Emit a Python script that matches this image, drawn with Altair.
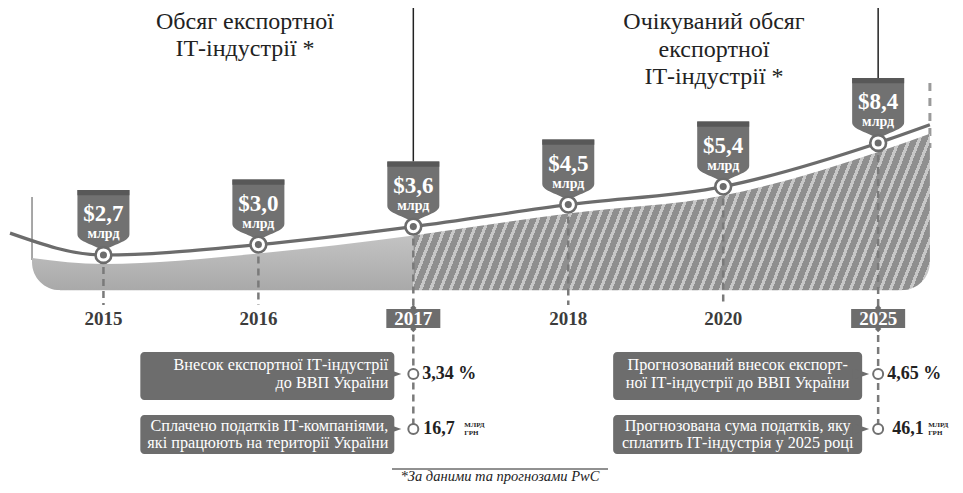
import altair as alt
import pandas as pd

# ---------------- data ----------------
years = ["2015", "2016", "2017", "2018", "2020", "2025"]
export_bn = [2.7, 3.0, 3.6, 4.5, 5.4, 8.4]
unit = "млрд"
curve_start_value = 3.37   # decorative lead-in of the curve (left of 2015)
curve_end_value = 10.1     # decorative lead-out of the curve (right of 2025)
area_start_value = 2.62    # top of the grey band at its left edge
actual_years = ["2015", "2016", "2017"]
forecast_years = ["2017", "2018", "2020", "2025"]
marked_years = ["2017", "2025"]

title_actual = ["Обсяг експортної", "ІТ-індустрії *"]
title_forecast = ["Очікуваний обсяг", "експортної", "ІТ-індустрії *"]
share_text_2017 = ["Внесок експортної  ІТ-індустрії", "до ВВП України"]
tax_text_2017 = ["Сплачено податків ІТ-компаніями,", "які працюють на території України"]
share_text_2025 = ["Прогнозований внесок експорт-", "ної  ІТ-індустрії до ВВП України"]
tax_text_2025 = ["Прогнозована сума податків, яку", "сплатить ІТ-індустрія у 2025 році"]
gdp_share = ["3,34 %", "4,65 %"]
taxes_uah_bn = ["16,7", "46,1"]
tax_unit = ["МЛРД", "ГРН"]
footnote = "*За даними та прогнозами PwC"

# ---------------- layout / style ----------------
W, H = 947, 478
X_DOMAIN = [-0.616, 5.496]
Y_DOMAIN = [0.26, 32.98]
LEAD_IN_X, AREA_LEFT_X, LEAD_OUT_X = -0.603, -0.461, 5.334
BASE = 1.89      # bottom of the grey band
GAP = 0.9128     # band top sits a few px under the curve
SERIF = "'Liberation Serif', 'Times New Roman', serif"
BOX = "#6d6d6d"
BADGE = "#717171"
LINE = "#6c6c6c"

pts = pd.DataFrame({
    "year": years,
    "i": list(range(len(years))),
    "value": export_bn,
    "label": ["$" + f"{v:.1f}".replace(".", ",") for v in export_bn],
})

line_df = pd.concat([
    pd.DataFrame({"i": [LEAD_IN_X], "value": [curve_start_value]}),
    pts[["i", "value"]],
    pd.DataFrame({"i": [LEAD_OUT_X], "value": [curve_end_value]}),
], ignore_index=True)

act = pts[pts.year.isin(actual_years)]
left_area = pd.DataFrame({
    "i": [AREA_LEFT_X] + list(act.i),
    "top": [area_start_value] + [v * GAP for v in act.value],
})
left_area["base"] = BASE

fc = pts[pts.year.isin(forecast_years)]
right_area = pd.DataFrame({
    "i": list(fc.i) + [LEAD_OUT_X],
    "top": [v * GAP for v in fc.value] + [curve_end_value * GAP],
})
right_area["base"] = BASE

xs = alt.Scale(domain=X_DOMAIN, nice=False, zero=False)
ys = alt.Scale(type="log", domain=Y_DOMAIN, nice=False)


def X(f):
    return alt.X(f, type="quantitative", scale=xs, axis=None)


def Y(f):
    return alt.Y(f, type="quantitative", scale=ys, axis=None)


def at_year(y):
    return alt.Chart(pts).transform_filter(alt.datum.year == y)


one = pd.DataFrame({"k": [0]})

grad_left = {"gradient": "linear", "x1": 0, "y1": 0, "x2": 0, "y2": 1,
             "stops": [{"offset": 0, "color": "#c3c3c3"},
                       {"offset": 1, "color": "#a9a9a9"}]}
# diagonal hatching built as a hard-stop gradient
dark, light = "#8f8f8f", "#c8c8c8"
P = 0.0173
stops = []
t = 0.0
while t < 1.0:
    b = min(t + 0.66 * P, 1.0)
    c = min(t + P, 1.0)
    stops += [{"offset": round(t, 5), "color": dark}, {"offset": round(b, 5), "color": dark},
              {"offset": round(b, 5), "color": light}, {"offset": round(c, 5), "color": light}]
    t += P
grad_hatch = {"gradient": "linear", "x1": 0, "y1": 0, "x2": 1.1031, "y2": 0.1308, "stops": stops}

layers = []

# right dashed edge and left thin edge
layers.append(alt.Chart(pd.DataFrame({"i": [LEAD_OUT_X]})).mark_rule(
    color="#9a9a9a", strokeWidth=3, strokeDash=[8, 7]).encode(
    x=X("i"), y=alt.value(75), y2=alt.value(140)))
layers.append(alt.Chart(pd.DataFrame({"i": [AREA_LEFT_X]})).mark_rule(
    color="#8a8a8a", strokeWidth=1.5).encode(
    x=X("i"), y=alt.value(189), y2=alt.value(252)))

# grey band: actual (solid) and forecast (hatched)
layers.append(alt.Chart(left_area).mark_area(interpolate="monotone", color=grad_left).encode(
    x=X("i"), y=Y("top"), y2=alt.Y2("base")))
layers.append(alt.Chart(right_area).mark_area(interpolate="monotone", color=grad_hatch).encode(
    x=X("i"), y=Y("top"), y2=alt.Y2("base")))

# rounded bottom corners (white masks)
corner_l = "M -0.06 0.06 L -0.06 -1 L 0 -1 C 0 -0.448 0.448 0 1 0 L 1 0.06 Z"
corner_r = "M 0.06 0.06 L 0.06 -1 L 0 -1 C 0 -0.448 -0.448 0 -1 0 L -1 0.06 Z"
layers.append(alt.Chart(pd.DataFrame({"i": [AREA_LEFT_X], "base": [BASE]})).mark_point(
    shape=corner_l, size=3136, filled=True, color="white", opacity=1, strokeWidth=0).encode(
    x=X("i"), y=Y("base")))
layers.append(alt.Chart(pd.DataFrame({"i": [LEAD_OUT_X], "base": [BASE]})).mark_point(
    shape=corner_r, size=3136, filled=True, color="white", opacity=1, strokeWidth=0).encode(
    x=X("i"), y=Y("base")))

# dashed year guides
plain = alt.FieldOneOfPredicate(field="year", oneOf=[y for y in years if y not in marked_years])
marked = alt.FieldOneOfPredicate(field="year", oneOf=marked_years)
layers.append(alt.Chart(pts).transform_filter(plain).mark_rule(
    color="#7a7a7a", strokeWidth=2.5, strokeDash=[7, 5]).encode(
    x=X("i"), y=Y("value"), y2=alt.value(297)))
layers.append(alt.Chart(pts).transform_filter(marked).mark_rule(
    color="#7a7a7a", strokeWidth=2.5, strokeDash=[7, 5]).encode(
    x=X("i"), y=Y("value"), y2=alt.value(421)))

# curve
layers.append(alt.Chart(line_df).mark_line(interpolate="monotone", color=LINE, strokeWidth=3.2).encode(
    x=X("i"), y=Y("value")))

# title leader rules
layers.append(alt.Chart(pts).transform_filter(marked).mark_rule(
    color="#222222", strokeWidth=1.5, yOffset=-65).encode(
    x=X("i"), y=Y("value"), y2=alt.value(0)))

# badges
body = "M -1 -2.5 L 1 -2.5 L 1 -0.8 C 1 -0.5 0.35 -0.42 0 -0.15 C -0.35 -0.42 -1 -0.5 -1 -0.8 Z"
strip = "M -1 -2.5 L 1 -2.5 L 1 -2.3 L -1 -2.3 Z"
layers.append(alt.Chart(pts).mark_point(shape=body, size=2704, filled=True, color=BADGE,
                                        opacity=1, strokeWidth=0).encode(x=X("i"), y=Y("value")))
layers.append(alt.Chart(pts).mark_point(shape=strip, size=2704, filled=True, color="#585858",
                                        opacity=1, strokeWidth=0).encode(x=X("i"), y=Y("value")))
# circles on the curve
layers.append(alt.Chart(pts).mark_point(shape="circle", size=250, filled=True, fill="white",
                                        stroke=LINE, strokeWidth=2.6, opacity=1).encode(
    x=X("i"), y=Y("value")))
layers.append(alt.Chart(pts).mark_point(shape="circle", size=50, filled=True, color=LINE,
                                        opacity=1).encode(x=X("i"), y=Y("value")))
# badge texts
layers.append(alt.Chart(pts).mark_text(font=SERIF, fontWeight="bold", fontSize=23, color="white",
                                       baseline="middle", dy=-41).encode(
    x=X("i"), y=Y("value"), text="label:N"))
layers.append(alt.Chart(pts).mark_text(font=SERIF, fontWeight="bold", fontSize=14, color="white",
                                       baseline="middle", dy=-21, text=unit).encode(
    x=X("i"), y=Y("value")))

# year labels
layers.append(alt.Chart(pts).transform_filter(plain).mark_text(
    font=SERIF, fontWeight="bold", fontSize=19, color="#3c3c3c", baseline="middle").encode(
    x=X("i"), y=alt.value(311), text="year:N"))
layers.append(alt.Chart(pts).transform_filter(marked).mark_rect(
    color=BOX, xOffset=-27, x2Offset=27).encode(
    x=X("i"), x2=alt.X2("i"), y=alt.value(301), y2=alt.value(320)))
for yy in (300, 321):
    layers.append(alt.Chart(pts).transform_filter(marked).mark_point(
        shape="diamond", size=40, filled=True, color=BOX, opacity=1).encode(
        x=X("i"), y=alt.value(yy)))
layers.append(alt.Chart(pts).transform_filter(marked).mark_text(
    font=SERIF, fontWeight="bold", fontSize=19, color="white", baseline="middle").encode(
    x=X("i"), y=alt.value(311), text="year:N"))

# info boxes
notch = "M -1 -0.6 L 0.7 0 L -1 0.6 Z"
rows = [  # (box top, box bottom, value y, first text line y, line height)
    (344, 392, 366, 357, 18),
    (407, 446, 421, 417.5, 17.5),
]
sides = [  # year, box left/right offsets, text offset, align, texts, value offsets, unit offset
    ("2017", -273, -19, -25, "right", [share_text_2017, tax_text_2017], [9, 10], 51),
    ("2025", -265, -16, -140.5, "center", [share_text_2025, tax_text_2025], [9, 14], 50),
]
for si, (yr, bl, br, tx, al, texts, voff, uoff) in enumerate(sides):
    for ri, (bt, bb, vy, ty, lh) in enumerate(rows):
        layers.append(at_year(yr).mark_rect(color=BOX, cornerRadius=4, xOffset=bl, x2Offset=br).encode(
            x=X("i"), x2=alt.X2("i"), y=alt.value(bt), y2=alt.value(bb)))
        layers.append(at_year(yr).mark_point(shape=notch, size=400, filled=True, color=BOX,
                                             opacity=1, strokeWidth=0, xOffset=br).encode(
            x=X("i"), y=alt.value(vy)))
        layers.append(at_year(yr).mark_text(text=texts[ri], font=SERIF, fontSize=16.2, color="white",
                                            align=al, baseline="middle", lineHeight=lh, xOffset=tx).encode(
            x=X("i"), y=alt.value(ty)))
        layers.append(at_year(yr).mark_point(shape="circle", size=100, filled=True, fill="white",
                                             stroke="#707070", strokeWidth=2, opacity=1).encode(
            x=X("i"), y=alt.value(vy)))
        val = gdp_share[si] if ri == 0 else taxes_uah_bn[si]
        layers.append(at_year(yr).mark_text(text=val, font=SERIF, fontWeight="bold", fontSize=18,
                                            color="#222222", align="left", baseline="middle",
                                            xOffset=voff[ri]).encode(x=X("i"), y=alt.value(vy)))
        if ri == 1:
            for k, (u, du) in enumerate(zip(tax_unit, (-4.5, 3.5))):
                layers.append(at_year(yr).mark_text(text=u, font=SERIF, fontWeight="bold", fontSize=7,
                                                    color="#222222", align="left", baseline="middle",
                                                    xOffset=uoff).encode(x=X("i"), y=alt.value(vy + du)))

# titles
layers.append(alt.Chart(one).mark_text(text=title_actual, font=SERIF, fontSize=24, color="#222222",
                                       align="center", baseline="alphabetic", lineHeight=27).encode(
    x=alt.value(237), y=alt.value(21)))
layers.append(alt.Chart(one).mark_text(text=title_forecast, font=SERIF, fontSize=24, color="#222222",
                                       align="center", baseline="alphabetic", lineHeight=27.5).encode(
    x=alt.value(706), y=alt.value(21)))

# footnote
layers.append(alt.Chart(one).mark_rule(color="#222222", strokeWidth=1).encode(
    x=alt.value(384), x2=alt.value(600), y=alt.value(461)))
layers.append(alt.Chart(one).mark_text(text=footnote, font=SERIF, fontStyle="italic", fontSize=14.5,
                                       color="#222222", align="center", baseline="middle").encode(
    x=alt.value(492), y=alt.value(469)))

chart = alt.layer(*layers).properties(
    width=W, height=H, padding=0, background="white",
    autosize=alt.AutoSizeParams(type="none"),
).configure_view(stroke=None)

chart.save("out.html", embed_options={"renderer": "svg", "actions": False})
